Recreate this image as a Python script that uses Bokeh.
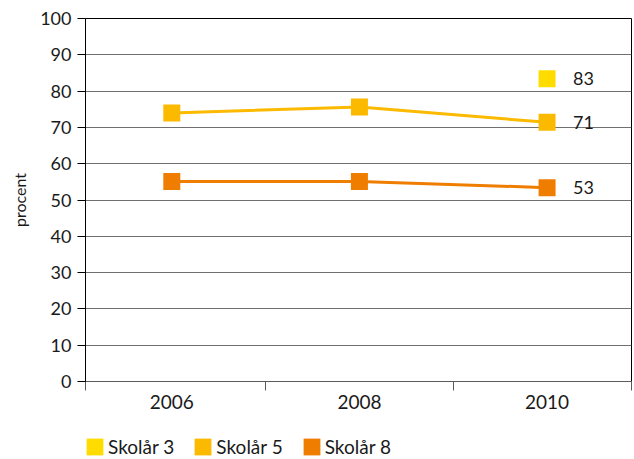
from bokeh.plotting import figure
from bokeh.layouts import column
from bokeh.models import (Range1d, FixedTicker, ColumnDataSource, Legend, LegendItem,
                          BasicTickFormatter)
from bokeh.core.properties import value
from bokeh.embed import file_html
from bokeh.resources import INLINE

# ---- data ----
years = [2006, 2008, 2010]
skolar3_years = [2010]
skolar3 = [83.4]
skolar5 = [74.0, 75.6, 71.4]
skolar8 = [55.1, 55.1, 53.4]
series_names = ["Skolår 3", "Skolår 5", "Skolår 8"]
colors = ["#FFDC00", "#FBBA00", "#EF7D00"]
y_ticks = list(range(0, 101, 10))

FONT = "Lato"
NAN = float("nan")

p = figure(width=634, height=425, output_backend="svg", toolbar_location=None,
           x_range=Range1d(2005.08, 2010.9), y_range=Range1d(0, 100),
           min_border_left=85, min_border_right=3, min_border_top=18, min_border_bottom=44,
           background_fill_color="white", border_fill_color="white")

p.outline_line_color = "black"
p.outline_line_width = 1
p.xgrid.visible = False
p.ygrid.grid_line_color = "#707070"
p.ygrid.grid_line_width = 1
p.ygrid.ticker = FixedTicker(ticks=y_ticks)

# y axis
ya = p.yaxis[0]
ya.ticker = FixedTicker(ticks=y_ticks)
ya.axis_line_color = "black"
ya.major_tick_line_color = "black"
ya.major_tick_out = 8
ya.major_tick_in = 0
ya.minor_tick_line_color = None
ya.major_label_standoff = 6
ya.major_label_text_font = FONT
ya.major_label_text_font_size = "18px"
ya.major_label_text_color = "#1a1a1a"
ya.axis_label = "procent"
ya.axis_label_text_font = FONT
ya.axis_label_text_font_size = "16px"
ya.axis_label_text_font_style = "normal"
ya.axis_label_text_color = "#1a1a1a"
ya.axis_label_standoff = 8

# x axis: labels at years, tick marks at boundaries (minor ticks)
xa = p.xaxis[0]
xa.ticker = FixedTicker(ticks=years, minor_ticks=[2005.08, 2007, 2009, 2010.9])
xa.formatter = BasicTickFormatter(use_scientific=False)
xa.axis_line_color = "#5a5a5a"
xa.major_tick_out = 0
xa.major_tick_in = 0
xa.minor_tick_out = 9
xa.minor_tick_in = 0
xa.minor_tick_line_color = "#5a5a5a"
xa.major_label_standoff = 4
xa.major_label_text_font = FONT
xa.major_label_text_font_size = "19px"
xa.major_label_text_color = "#1a1a1a"

# lines
p.line(years, skolar5, line_color=colors[1], line_width=3)
p.line(years, skolar8, line_color=colors[2], line_width=3)

# markers
p.scatter(skolar3_years, skolar3, marker="square", size=17, fill_color=colors[0], line_color=None)
p.scatter(years, skolar5, marker="square", size=17, fill_color=colors[1], line_color=None)
p.scatter(years, skolar8, marker="square", size=17, fill_color=colors[2], line_color=None)

# data labels for last points
lab_src = ColumnDataSource(dict(
    x=[skolar3_years[-1], years[-1], years[-1]],
    y=[skolar3[-1], skolar5[-1], skolar8[-1]],
    t=[str(int(round(v))) for v in (skolar3[-1], skolar5[-1], skolar8[-1])],
))
p.text(x="x", y="y", text="t", source=lab_src, x_offset=26, text_baseline="middle",
       text_align="left", text_font=value(FONT), text_font_size="18px", text_color="#1a1a1a")

# legend strip below the chart
pl = figure(width=634, height=34, output_backend="svg", toolbar_location=None,
            x_range=Range1d(0, 1), y_range=Range1d(0, 1),
            min_border=0, outline_line_color=None,
            background_fill_color="white", border_fill_color="white")
pl.axis.visible = False
pl.grid.visible = False

legend_items = []
for name, c in zip(series_names, colors):
    # legend swatch proxy (NaN geometry: draws nothing in the strip itself)
    q = pl.quad(left=[NAN], right=[NAN], top=[NAN], bottom=[NAN], fill_color=c, line_color=None)
    legend_items.append(LegendItem(label=name, renderers=[q]))

legend = Legend(items=legend_items, orientation="horizontal", location=(-1, 1),
                glyph_width=21, glyph_height=21, label_standoff=3, spacing=18,
                padding=0, margin=0, border_line_color=None, background_fill_alpha=0,
                label_text_font=FONT, label_text_font_size="19px", label_text_color="#1a1a1a")
pl.add_layout(legend, "center")

layout = column(p, pl, spacing=0)
open("out.html", "w").write(file_html(layout, INLINE))
